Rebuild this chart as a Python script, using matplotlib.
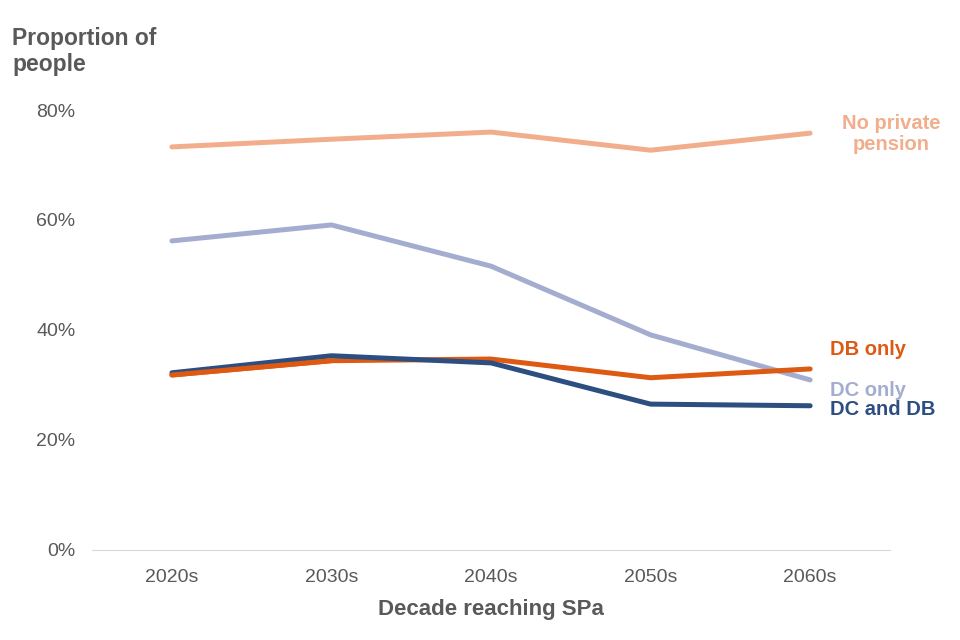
import matplotlib
matplotlib.use('Agg')
import matplotlib.pyplot as plt
from matplotlib.ticker import PercentFormatter

plt.rcParams['font.family'] = ['Liberation Sans', 'DejaVu Sans']

decades = ['2020s', '2030s', '2040s', '2050s', '2060s']
no_private = [73.3, 74.7, 76.0, 72.7, 75.8]
dc_only = [56.2, 59.1, 51.6, 39.1, 30.9]
db_only = [31.8, 34.4, 34.7, 31.3, 32.9]
dc_and_db = [32.2, 35.3, 34.0, 26.5, 26.2]

# name, values, colour, label x, label y, alignment
series = [
    ('No private\npension', no_private, '#F2AE8C', 4.506, 75.6, 'center'),
    ('DC only', dc_only, '#A4ADD0', 4.125, 29.0, 'left'),
    ('DB only', db_only, '#DE5A12', 4.125, 36.4, 'left'),
    ('DC and DB', dc_and_db, '#2C4E80', 4.125, 25.6, 'left'),
]

fig = plt.figure(figsize=(9.6, 6.4), dpi=100)
ax = fig.add_axes([0.096, 0.141, 0.831, 0.687])

x = range(len(decades))
for name, vals, col, lx, ly, ha in series:
    ax.plot(x, vals, color=col, lw=3.6, solid_capstyle='round', solid_joinstyle='round')
    ax.text(lx, ly, name, color=col, fontsize=14.5, fontweight='bold',
            ha=ha, va='center', clip_on=False, linespacing=1.15, multialignment='center')
# DB only drawn on top of DC and DB at the start
ax.plot(x[:2], db_only[:2], color='#DE5A12', lw=3.6, solid_capstyle='round')

ax.set_xlim(-0.5, 4.5)
ax.set_ylim(0, 80)
ax.set_yticks([0, 20, 40, 60, 80])
ax.yaxis.set_major_formatter(PercentFormatter(decimals=0))
ax.set_xticks(list(x))
ax.set_xticklabels(decades)
ax.tick_params(length=0, labelsize=14, colors='#595959', pad=14)
ax.tick_params(axis='y', pad=12)
for s in ['top', 'right', 'left']:
    ax.spines[s].set_visible(False)
ax.spines['bottom'].set_color('#D9D9D9')
ax.set_xlabel('Decade reaching SPa', fontsize=16, fontweight='bold', color='#595959', labelpad=9)
fig.text(0.013, 0.958, 'Proportion of\npeople', fontsize=16.5, fontweight='bold',
         color='#595959', ha='left', va='top', linespacing=1.2)

fig.savefig('out.png', dpi=100)
